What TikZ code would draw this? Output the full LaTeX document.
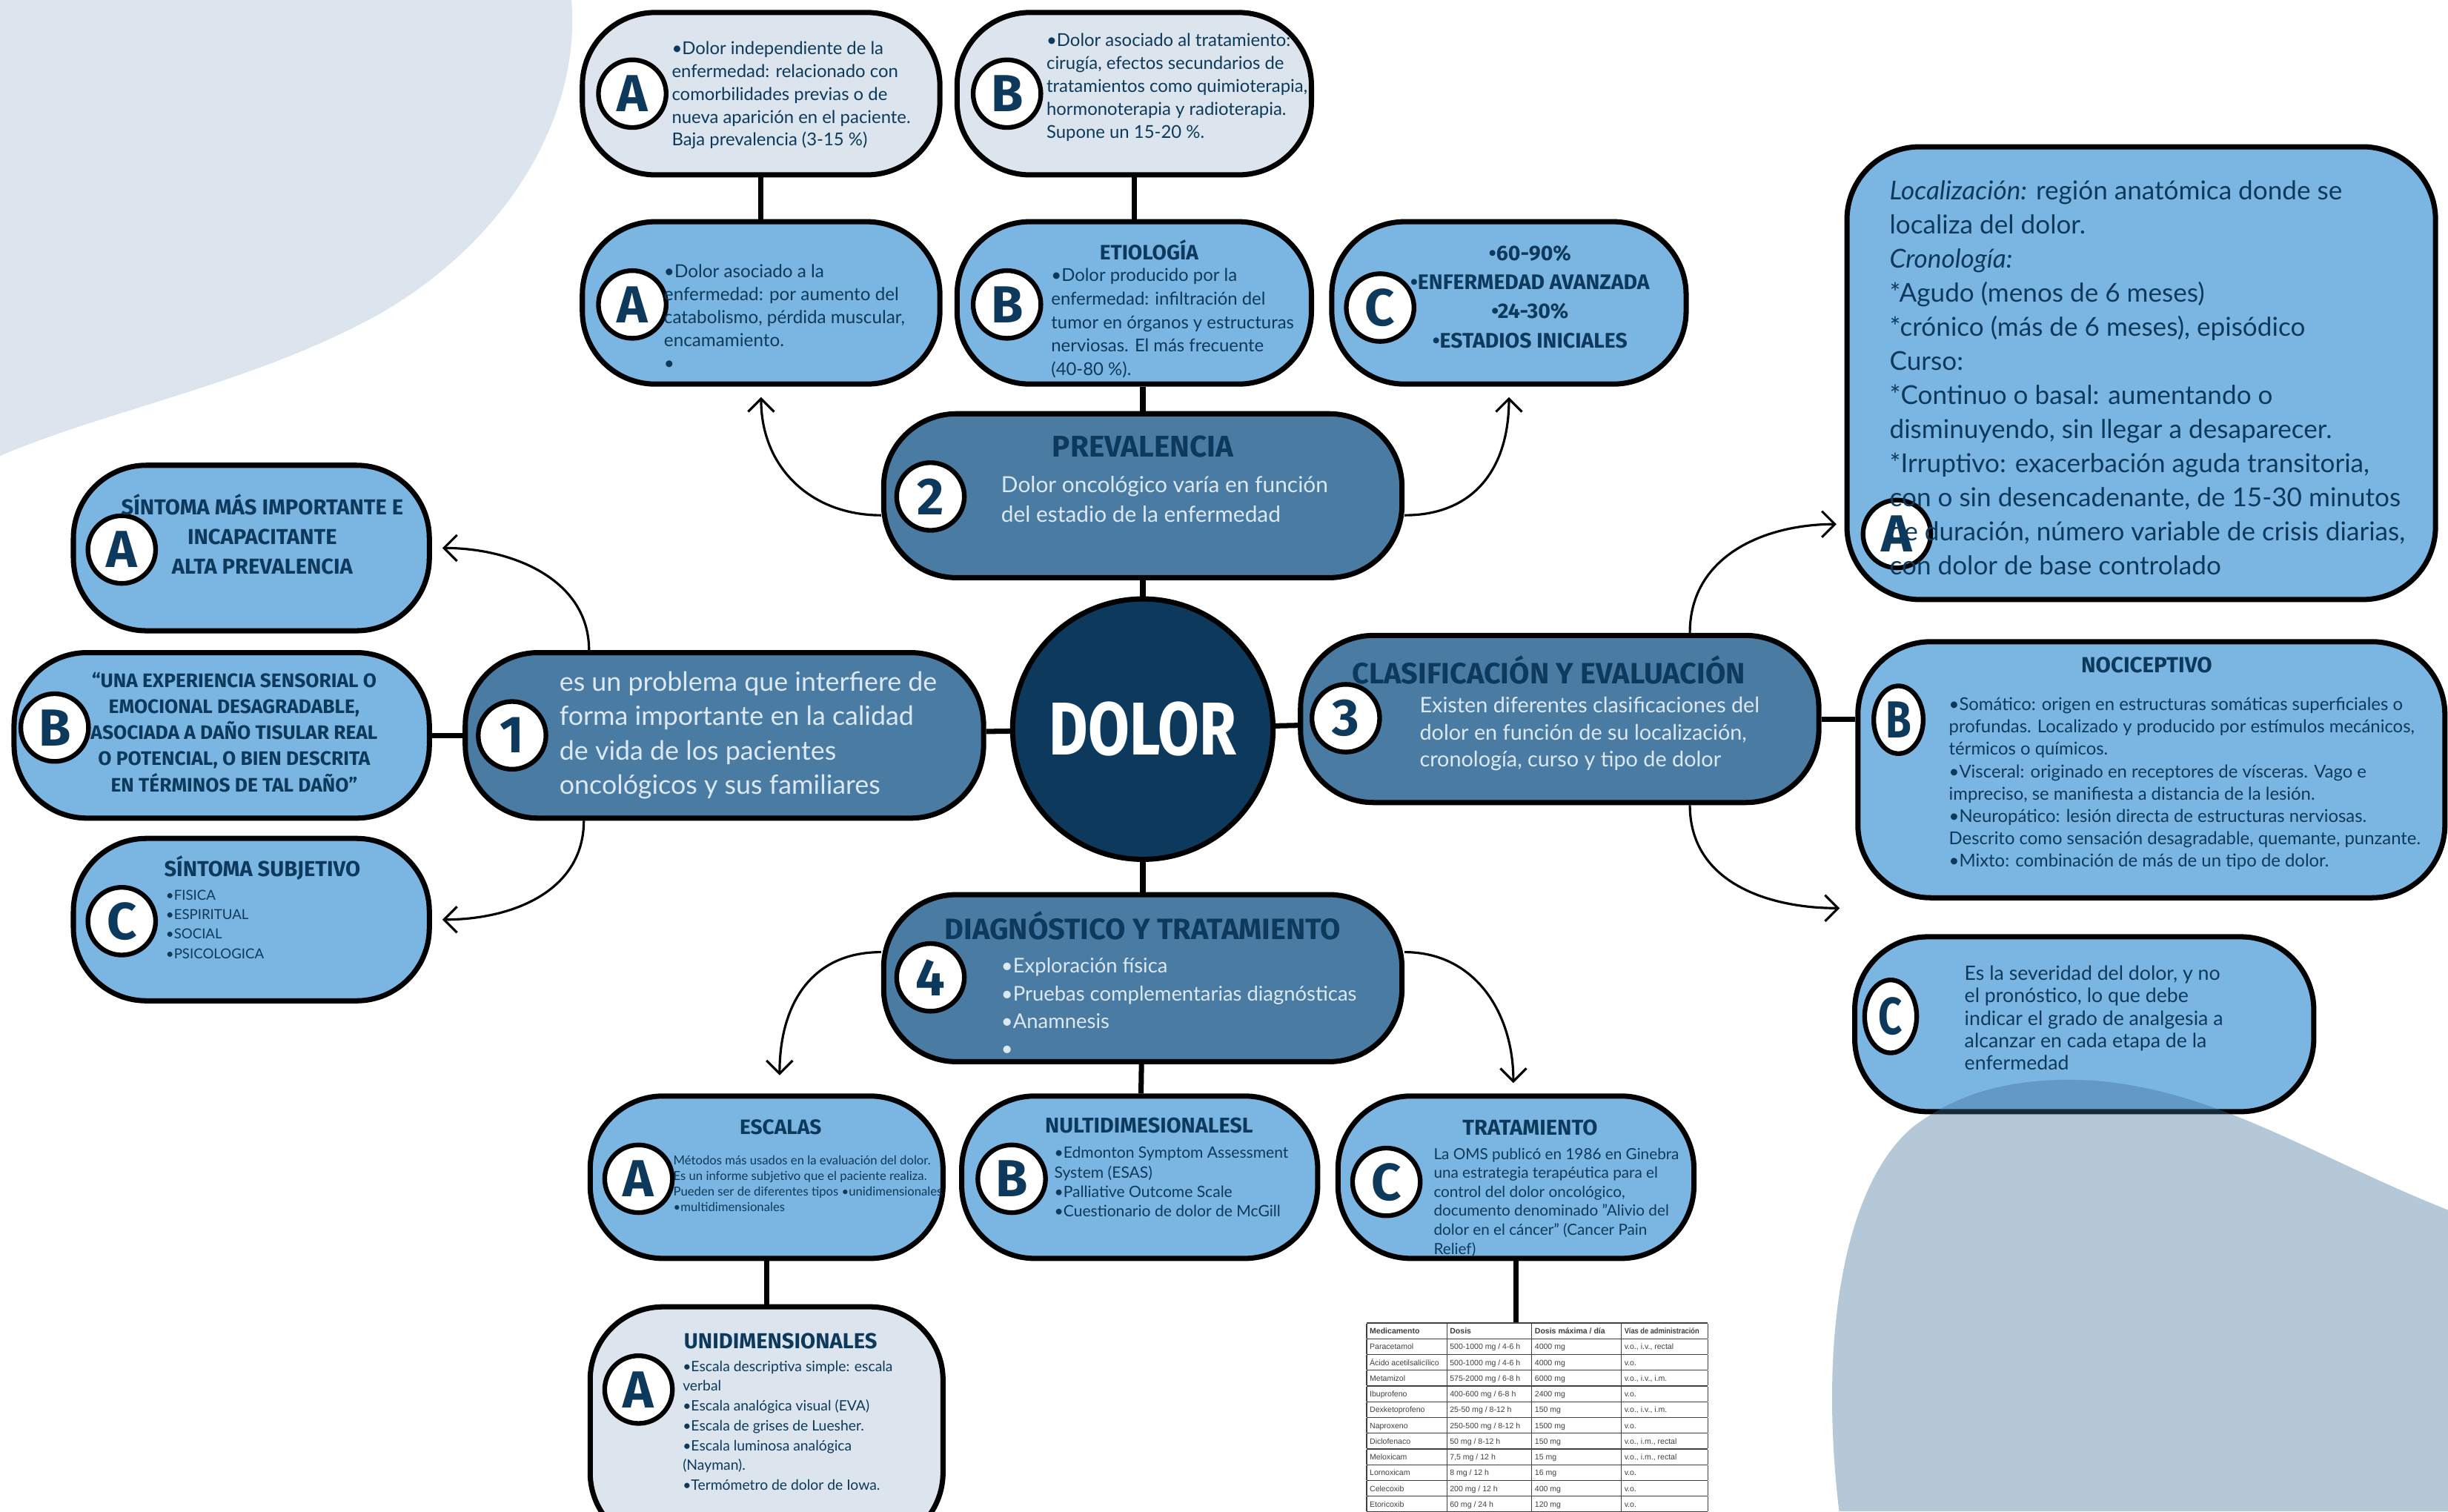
\documentclass[tikz,border=0pt]{standalone}
\usepackage{fontspec}
\usepackage{graphicx}
\setmainfont{Lato}
\newfontfamily\titulo{Fira Sans}
\newfontfamily\tablafont{Liberation Sans}
\usetikzlibrary{arrows.meta,fit,shapes.geometric}

\definecolor{azulOscuro}{HTML}{0D3A5C}
\definecolor{azulMedio}{HTML}{4A7CA3}
\definecolor{azulClaro}{HTML}{7BB6E2}
\definecolor{grisAzul}{HTML}{DCE5EE}
\definecolor{textoClaro}{HTML}{DCE8F3}
\definecolor{manchaAzul}{HTML}{3D6F96}

\tikzset{
  caja/.style={draw=black, line width=2pt, rounded corners=28pt, inner sep=0pt},
  letra/.style={circle, draw=black, line width=1.8pt, fill=white, minimum size=26pt, inner sep=0pt,
    text=azulOscuro, font=\titulo\bfseries\fontsize{20}{20}\selectfont},
  enlace/.style={line width=2pt},
  flecha/.style={-{Straight Barb[length=5pt,width=10pt]}, line width=0.9pt},
  tituloCaja/.style={text=azulOscuro, inner sep=0pt, align=center},
  cuerpo/.style={anchor=west, align=left, text=azulOscuro, inner sep=0pt},
}

\begin{document}
\begin{tikzpicture}[x=0.02107cm, y=-0.02107cm]
\useasboundingbox (0,0) rectangle (1568,968);
\fill[white] (0,0) rectangle (1568,968);
\fill[grisAzul] (0,0) -- (366,0) .. controls (372,70) and (330,150) .. (245,200) .. controls (165,245) and (70,262) .. (0,292) -- cycle;

% cajas de arriba
\node[caja, fill=grisAzul, fit={(373,8) (602,112)}] (topA) {};
\node[letra] (bTopA) at (405,60) {A};
\node[cuerpo, font=\fontsize{6.8}{8.8}\selectfont] (txtTopA) at (430,61) {•Dolor independiente de la\\enfermedad: relacionado con\\comorbilidades previas o de\\nueva aparición en el paciente.\\Baja prevalencia (3-15~\%)};

\node[caja, fill=grisAzul, fit={(613,8) (840,112)}] (topB) {};
\node[letra] (bTopB) at (645,60) {B};
\node[cuerpo, font=\fontsize{6.8}{8.8}\selectfont] (txtTopB) at (670,56) {•Dolor asociado al tratamiento:\\cirugía, efectos secundarios de\\tratamientos como quimioterapia,\\hormonoterapia y radioterapia.\\Supone un 15-20~\%.};

\node[caja, fill=azulClaro, fit={(373,142) (602,246)}] (midA) {};
\node[letra] (bMidA) at (405,195) {A};
\node[cuerpo, font=\fontsize{6.9}{8.8}\selectfont] (txtMidA) at (425,203) {•Dolor asociado a la\\enfermedad: por aumento del\\catabolismo, pérdida muscular,\\encamamiento.\\•};

\node[caja, fill=azulClaro, fit={(613,142) (840,246)}] (midB) {};
\node[letra] (bMidB) at (645,195) {B};
\node[tituloCaja, font=\titulo\bfseries\fontsize{8}{9}\selectfont] (tEtio) at (736,160) {ETIOLOGÍA};
\node[cuerpo, font=\fontsize{6.8}{9}\selectfont] (txtMidB) at (673,207) {•Dolor producido por la\\enfermedad: infiltración del\\tumor en órganos y estructuras\\nerviosas. El más frecuente\\(40-80~\%).};

\node[caja, fill=azulClaro, fit={(853,142) (1080,246)}] (midC) {};
\node[letra] (bMidC) at (884,197) {C};
\node[tituloCaja, font=\titulo\bfseries\fontsize{8.1}{11.2}\selectfont] (txtMidC) at (980,190) {•60-90\%\\•ENFERMEDAD AVANZADA\\•24-30\%\\•ESTADIOS INICIALES};

% nodos principales
\node[caja, fill=azulMedio, fit={(566,265) (898,370)}] (prev) {};
\node[letra] (b2) at (596,318) {2};
\node[tituloCaja, font=\titulo\bfseries\fontsize{11.5}{13}\selectfont] (tPrev) at (732,286) {PREVALENCIA};
\node[cuerpo, text=textoClaro, font=\fontsize{8.5}{11.4}\selectfont] (txtPrev) at (641,320) {Dolor oncológico varía en función\\del estadio de la enfermedad};

\node[circle, draw=black, line width=2pt, fill=azulOscuro, minimum size=100pt, text=white,
  font=\titulo\bfseries\fontsize{23}{23}\selectfont] (dolor) at (732,467) {\scalebox{1}[1.25]{DOLOR}};

\node[caja, fill=azulMedio, fit={(298,418) (630,524)}] (def1) {};
\node[letra] (b1) at (328,471) {1};
\node[cuerpo, text=textoClaro, font=\fontsize{10.2}{13.2}\selectfont] (txtDef1) at (358,471) {es un problema que interfiere de\\forma importante en la calidad\\de vida de los pacientes\\oncológicos y sus familiares};

\node[caja, fill=azulMedio, fit={(833,407) (1165,514)}] (clas) {};
\node[letra] (b3) at (862,460) {3};
\node[tituloCaja, font=\titulo\bfseries\fontsize{11.3}{13}\selectfont] (tClas) at (992,429) {CLASIFICACIÓN Y EVALUACIÓN};
\node[cuerpo, text=textoClaro, font=\fontsize{8.2}{10.5}\selectfont] (txtClas) at (909,470) {Existen diferentes clasificaciones del\\dolor en función de su localización,\\cronología, curso y tipo de dolor};

\node[caja, fill=azulMedio, fit={(566,573) (898,680)}] (diag) {};
\node[letra] (b4) at (596,626) {4};
\node[tituloCaja, font=\titulo\bfseries\fontsize{11.3}{13}\selectfont] (tDiag) at (732,593) {DIAGNÓSTICO Y TRATAMIENTO};
\node[cuerpo, text=textoClaro, font=\fontsize{7.8}{10.6}\selectfont] (txtDiag) at (641,645) {•Exploración física\\•Pruebas complementarias diagnósticas\\•Anamnesis\\•};

% izquierda
\node[caja, fill=azulClaro, fit={(47,298) (275,404)}] (lA) {};
\node[letra] (bLA) at (78,352) {A};
\node[tituloCaja, font=\titulo\bfseries\fontsize{8.3}{11.4}\selectfont] (txtLA) at (168,342) {SÍNTOMA MÁS IMPORTANTE E\\INCAPACITANTE\\ALTA PREVALENCIA};

\node[caja, fill=azulClaro, fit={(9,418) (275,524)}] (lB) {};
\node[letra] (bLB) at (35,466) {B};
\node[tituloCaja, font=\titulo\bfseries\fontsize{7.5}{10}\selectfont] (txtLB) at (150,469) {“UNA EXPERIENCIA SENSORIAL O\\EMOCIONAL DESAGRADABLE,\\ASOCIADA A DAÑO TISULAR REAL\\O POTENCIAL, O BIEN DESCRITA\\EN TÉRMINOS DE TAL DAÑO”};

\node[caja, fill=azulClaro, fit={(47,537) (275,641)}] (lC) {};
\node[letra] (bLC) at (78,590) {C};
\node[tituloCaja, font=\titulo\bfseries\fontsize{8.3}{9}\selectfont] (tLC) at (168,556) {SÍNTOMA SUBJETIVO};
\node[cuerpo, font=\fontsize{5.3}{7.5}\selectfont] (txtLC) at (106,592) {•FISICA\\•ESPIRITUAL\\•SOCIAL\\•PSICOLOGICA};

% derecha
\node[caja, fill=azulClaro, fit={(1183,94) (1560,384)}] (rA) {};
\node[letra] (bRA) at (1215,342) {A};
\node[cuerpo, font=\fontsize{10}{13.1}\selectfont] (txtRA) at (1210,242) {\textit{Localización:} región anatómica donde se\\localiza del dolor.\\\textit{Cronología:}\\*Agudo (menos de 6 meses)\\*crónico (más de 6 meses), episódico\\Curso:\\*Continuo o basal: aumentando o\\disminuyendo, sin llegar a desaparecer.\\*Irruptivo: exacerbación aguda transitoria,\\con o sin desencadenante, de 15-30 minutos\\de duración, número variable de crisis diarias,\\con dolor de base controlado};

\node[caja, fill=azulClaro, fit={(1190,411) (1566,575)}] (rB) {};
\node[letra, ellipse, minimum width=19pt, minimum height=26pt] (bRB) at (1216,461) {\scalebox{0.8}[1]{B}};
\node[tituloCaja, font=\titulo\bfseries\fontsize{8.4}{9}\selectfont] (tRB) at (1375,426) {NOCICEPTIVO};
\node[cuerpo, font=\fontsize{6.8}{8.6}\selectfont] (txtRB) at (1248,502) {•Somático: origen en estructuras somáticas superficiales o\\profundas. Localizado y producido por estímulos mecánicos,\\térmicos o químicos.\\•Visceral: originado en receptores de vísceras. Vago e\\impreciso, se manifiesta a distancia de la lesión.\\•Neuropático: lesión directa de estructuras nerviosas.\\Descrito como sensación desagradable, quemante, punzante.\\•Mixto: combinación de más de un tipo de dolor.};

\node[caja, fill=azulClaro, fit={(1188,600) (1482,712)}] (rC) {};
\node[letra, ellipse, minimum width=20pt, minimum height=28pt] (bRC) at (1211,651) {\scalebox{0.8}[1]{C}};
\node[cuerpo, font=\fontsize{7.6}{8.6}\selectfont] (txtRC) at (1258,652) {Es la severidad del dolor, y no\\el pronóstico, lo que debe\\indicar el grado de analgesia a\\alcanzar en cada etapa de la\\enfermedad};

% abajo
\node[caja, fill=azulClaro, fit={(378,702) (604,806)}] (escA) {};
\node[letra] (bEscA) at (409,755) {A};
\node[tituloCaja, font=\titulo\bfseries\fontsize{8}{9}\selectfont] (tEscA) at (500,722) {ESCALAS};
\node[cuerpo, font=\fontsize{4.75}{6}\selectfont] (txtEscA) at (431,758) {Métodos más usados en la evaluación del dolor.\\Es un informe subjetivo que el paciente realiza.\\Pueden ser de diferentes tipos •unidimensionales\\•multidimensionales};

\node[caja, fill=azulClaro, fit={(616,702) (844,806)}] (multB) {};
\node[letra] (bMultB) at (648,755) {B};
\node[tituloCaja, font=\titulo\bfseries\fontsize{8.2}{9}\selectfont] (tMultB) at (736,721) {NULTIDIMESIONALESL};
\node[cuerpo, font=\fontsize{6}{7.5}\selectfont] (txtMultB) at (675,757) {•Edmonton Symptom Assessment\\System (ESAS)\\•Palliative Outcome Scale\\•Cuestionario de dolor de McGill};

\node[caja, fill=azulClaro, fit={(857,702) (1085,806)}] (trtC) {};
\node[letra] (bTrtC) at (888,757) {C};
\node[tituloCaja, font=\titulo\bfseries\fontsize{8.3}{9}\selectfont] (tTrtC) at (980,722) {TRATAMIENTO};
\node[cuerpo, font=\fontsize{5.9}{7.3}\selectfont] (txtTrtC) at (918,770) {La OMS publicó en 1986 en Ginebra\\una estrategia terapéutica para el\\control del dolor oncológico,\\documento denominado "Alivio del\\dolor en el cáncer" (Cancer Pain\\Relief)};

\node[caja, fill=grisAzul, fit={(378,837) (604,990)}] (uniA) {};
\node[letra] (bUniA) at (409,890) {A};
\node[tituloCaja, font=\titulo\bfseries\fontsize{8.3}{9}\selectfont] (tUniA) at (500,859) {UNIDIMENSIONALES};
\node[cuerpo, font=\fontsize{5.5}{7.6}\selectfont] (txtUniA) at (437,913) {•Escala descriptiva simple: escala\\verbal\\•Escala analógica visual (EVA)\\•Escala de grises de Luesher.\\•Escala luminosa analógica\\(Nayman).\\•Termómetro de dolor de Iowa.};

\node[anchor=north west, inner sep=0pt, text=black!75, font=\tablafont\fontsize{3}{5.7}\selectfont] (tabla) at (875,846.7) {%
\setlength{\tabcolsep}{1.2pt}\setlength{\arrayrulewidth}{0.35pt}%
\begin{tabular}{|p{28.4pt}|p{30.2pt}|p{32pt}|p{30.8pt}|}
\hline
\textbf{Medicamento} & \textbf{Dosis} & \textbf{Dosis máxima / día} & \scalebox{0.88}[1]{\textbf{Vías de administración}}\\ \hline
Paracetamol & 500-1000 mg / 4-6 h & 4000 mg & v.o., i.v., rectal\\ \hline
Ácido acetilsalicílico & 500-1000 mg / 4-6 h & 4000 mg & v.o.\\ \hline
Metamizol & 575-2000 mg / 6-8 h & 6000 mg & v.o., i.v., i.m.\\ \hline
Ibuprofeno & 400-600 mg / 6-8 h & 2400 mg & v.o.\\ \hline
Dexketoprofeno & 25-50 mg / 8-12 h & 150 mg & v.o., i.v., i.m.\\ \hline
Naproxeno & 250-500 mg / 8-12 h & 1500 mg & v.o.\\ \hline
Diclofenaco & 50 mg / 8-12 h & 150 mg & v.o., i.m., rectal\\ \hline
Meloxicam & 7,5 mg / 12 h & 15 mg & v.o., i.m., rectal\\ \hline
Lornoxicam & 8 mg / 12 h & 16 mg & v.o.\\ \hline
Celecoxib & 200 mg / 12 h & 400 mg & v.o.\\ \hline
Etoricoxib & 60 mg / 24 h & 120 mg & v.o.\\ \hline
\end{tabular}};

% conexiones
\draw[enlace] (topA) -- (midA);
\draw[enlace] (topB) -- (midB);
\draw[enlace] (prev.north) -- (prev.north |- midB.south);
\draw[enlace] (prev) -- (dolor);
\draw[enlace] (dolor) -- (def1);
\draw[enlace] (dolor) -- (clas);
\draw[enlace] (dolor) -- (diag);
\draw[enlace] (diag) -- (multB);
\draw[enlace] (def1) -- (lB);
\draw[enlace] (clas.east) -- (clas.east -| rB.west);
\draw[enlace] (escA) -- (uniA);
\draw[enlace] (trtC.south) -- (trtC.south |- tabla.north);

\draw[flecha] ([yshift=-7.5pt]prev.west) .. controls +(-45,0) and +(0,45) .. ([yshift=-4pt]midA.south);
\draw[flecha] ([yshift=-7.5pt]prev.east) .. controls +(45,0) and +(0,45) .. ([yshift=-4pt]midC.south);
\draw[flecha] ([xshift=-52pt]def1.north) .. controls +(0,-45) and +(45,0) .. ([xshift=4pt]lA.east);
\draw[flecha] ([xshift=-54pt]def1.south) .. controls +(0,45) and +(45,0) .. ([xshift=4pt]lC.east);
\draw[flecha] ([xshift=50pt]clas.north) .. controls +(0,-50) and +(-45,0) .. ([xshift=-3pt,yshift=-58pt]rA.west);
\draw[flecha] ([xshift=50pt]clas.south) .. controls +(0,50) and +(-45,0) .. ([xshift=-6pt,yshift=-3pt]rB.south west);
\draw[flecha] ([yshift=10pt]diag.west) .. controls +(-45,0) and +(0,-45) .. ([xshift=5pt,yshift=7pt]escA.north);
\draw[flecha] ([yshift=10pt]diag.east) .. controls +(45,0) and +(0,-45) .. ([xshift=-1pt,yshift=4pt]trtC.north);

\fill[manchaAzul, opacity=0.38] (1178,968) .. controls (1165,860) and (1180,760) .. (1225,722) .. controls (1260,695) and (1300,690) .. (1340,692) .. controls (1420,698) and (1480,740) .. (1568,775) -- (1568,968) -- cycle;
\end{tikzpicture}
\end{document}
